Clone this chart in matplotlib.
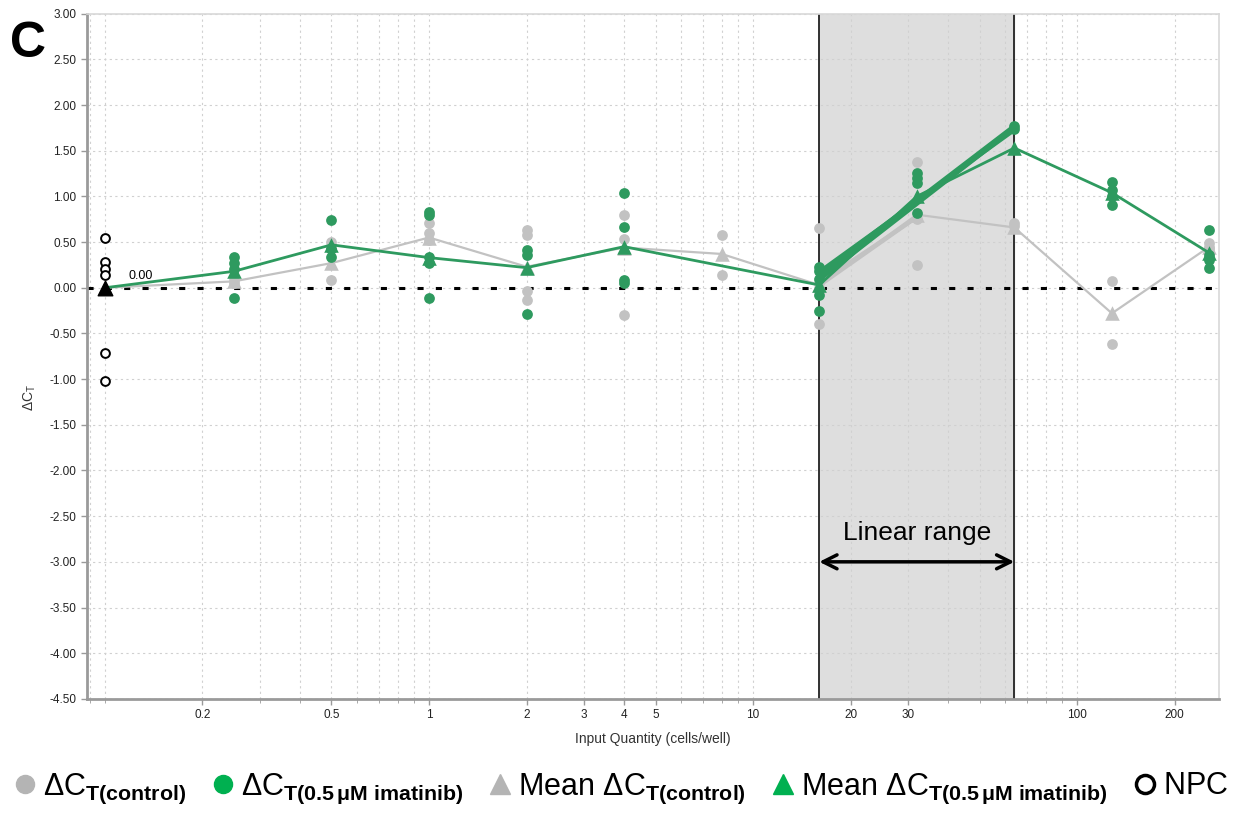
import matplotlib
matplotlib.use("Agg")
import matplotlib.pyplot as plt
from matplotlib import font_manager
from matplotlib.lines import Line2D
from matplotlib.ticker import FixedLocator, LogLocator, NullFormatter, FuncFormatter

# fonts: narrow sans for the legend if there is one
names = {f.name for f in font_manager.fontManager.ttflist}
narrow = "Liberation Sans Narrow" if "Liberation Sans Narrow" in names else "Liberation Sans"
plt.rcParams["font.family"] = ["Liberation Sans", "DejaVu Sans"]
plt.rcParams["mathtext.fontset"] = "custom"
plt.rcParams["mathtext.rm"] = narrow
plt.rcParams["mathtext.bf"] = narrow + ":bold"
plt.rcParams["mathtext.it"] = narrow

GRAY = "#c2c2c2"
GREEN = "#2e9a5f"
GREEN_LEG = "#00b050"

# replicate delta Ct values, control
ctrl_dose = [0.25, 0.25, 0.5, 0.5, 0.5, 1, 1, 1, 2, 2, 2, 2, 4, 4, 4, 8, 8,
             16, 16, 16, 16, 32, 32, 32, 64, 64, 128, 128, 256, 256, 256]
ctrl_dct = [0.05, 0.08, 0.08, 0.50, 0.45, 0.71, 0.60, 0.52, 0.63, 0.58, -0.04, -0.13,
            0.80, 0.53, -0.30, 0.58, 0.14, 0.65, -0.40, 0.00, 0.05, 1.38, 0.75, 0.25,
            0.71, 0.68, 0.07, -0.62, 0.49, 0.42, 0.45]

# replicate delta Ct values, 0.5 uM imatinib
imat_dose = [0.25, 0.25, 0.25, 0.25, 0.5, 0.5, 0.5, 1, 1, 1, 1, 1, 2, 2, 2,
             4, 4, 4, 4, 16, 16, 16, 16, 16, 32, 32, 32, 32, 64, 64,
             128, 128, 128, 128, 256, 256, 256, 256]
imat_dct = [0.34, 0.27, 0.20, -0.11, 0.74, 0.34, 0.42, 0.83, 0.80, 0.34, 0.27, -0.11,
            0.41, 0.36, -0.29, 1.04, 0.67, 0.09, 0.05, 0.23, 0.18, 0.10, -0.08, -0.25,
            1.26, 1.20, 1.15, 0.82, 1.77, 1.74, 1.16, 1.07, 1.00, 0.91, 0.63, 0.36, 0.30, 0.22]

# means
ctrl_mean_dose = [0.25, 0.5, 1, 2, 4, 8, 16, 32, 64, 128, 256]
ctrl_mean = [0.07, 0.27, 0.55, 0.23, 0.44, 0.37, 0.03, 0.80, 0.66, -0.28, 0.45]
imat_mean_dose = [0.25, 0.5, 1, 2, 4, 16, 32, 64, 128, 256]
imat_mean = [0.18, 0.47, 0.33, 0.22, 0.45, 0.03, 1.00, 1.53, 1.04, 0.38]

# no-template controls
npc_dose = 0.1
npc_dct = [0.55, 0.28, 0.21, 0.14, -0.71, -1.02]
npc_mean = 0.0

# per-replicate fits over the linear range
lin_lo, lin_hi = 16, 64
imat_fit_lo = [0.08, 0.13, 0.18, 0.10, 0.15]
imat_fit_hi = [1.74, 1.77, 1.72, 1.76, 1.78]
ctrl_fit_lo = [0.02, 0.06]
ctrl_fit_hi = [1.52, 1.48]

fig = plt.figure(figsize=(12.42, 8.30), dpi=100)
ax = fig.add_axes([0.070, 0.158, 0.9115, 0.8255])
ax.set_xscale("log")
ax.set_xlim(0.088, 274)
ax.set_ylim(-4.5, 3.0)

# linear range band
ax.axvspan(lin_lo, lin_hi, color="#dedede", zorder=0)
ax.axvline(lin_lo, color="#222222", lw=1.3, zorder=1)
ax.axvline(lin_hi, color="#222222", lw=1.3, zorder=1)

# grid
ax.xaxis.set_major_locator(FixedLocator([0.2, 0.5, 1, 2, 3, 4, 5, 10, 20, 30, 100, 200]))
ax.xaxis.set_minor_locator(LogLocator(base=10, subs=range(1, 10), numticks=20))
ax.xaxis.set_minor_formatter(NullFormatter())
ax.xaxis.set_major_formatter(FuncFormatter(lambda v, p: f"{v:g}"))
ax.set_yticks([i * 0.5 for i in range(-9, 7)])
ax.yaxis.set_major_formatter(FuncFormatter(lambda v, p: f"{v:.2f}"))
ax.grid(True, which="both", axis="x", color="#d0d0d0", ls=(0, (2, 3)), lw=0.8, zorder=0)
ax.grid(True, which="major", axis="y", color="#d0d0d0", ls=(0, (2, 3)), lw=0.8, zorder=0)
ax.set_axisbelow(True)

ax.axhline(0, color="black", ls=(0, (2, 4)), lw=2.2, zorder=2)

# control series
ax.plot([npc_dose] + ctrl_mean_dose, [npc_mean] + ctrl_mean, color=GRAY, lw=1.6, zorder=3)
for lo, hi in zip(ctrl_fit_lo, ctrl_fit_hi):
    ax.plot([lin_lo, 32], [lo, lo + (hi - lo) / 2], color=GRAY, lw=2.5, zorder=3)
ax.scatter(ctrl_dose, ctrl_dct, s=60, color=GRAY, zorder=4, linewidths=0)
ax.scatter(ctrl_mean_dose, ctrl_mean, s=110, marker="^", color=GRAY, zorder=4, linewidths=0)

# imatinib series
for lo, hi in zip(imat_fit_lo, imat_fit_hi):
    ax.plot([lin_lo, 32, lin_hi], [lo, (lo + hi) / 2, hi], color=GREEN, lw=2.2, zorder=5)
ax.plot([npc_dose] + imat_mean_dose, [npc_mean] + imat_mean, color=GREEN, lw=2.0, zorder=5)
ax.scatter(imat_dose, imat_dct, s=60, color=GREEN, zorder=6, linewidths=0)
ax.scatter(imat_mean_dose, imat_mean, s=110, marker="^", color=GREEN, zorder=6, linewidths=0)

# NPC
ax.scatter([npc_dose] * len(npc_dct), npc_dct, s=40, facecolors="white",
           edgecolors="black", linewidths=1.4, zorder=6)
ax.scatter([npc_dose], [npc_mean], s=110, marker="^", color="black", zorder=7)
ax.text(0.118, npc_mean + 0.06, f"{npc_mean:.2f}", fontsize=9, va="bottom", ha="left")

# linear range annotation
ax.annotate("", xy=(lin_lo, -3.0), xytext=(lin_hi, -3.0),
            arrowprops=dict(arrowstyle="<->", color="black", lw=2.5,
                            mutation_scale=25, shrinkA=0, shrinkB=0), zorder=8)
ax.text((lin_lo * lin_hi) ** 0.5, -2.82, "Linear range", fontsize=19,
        ha="center", va="bottom", zorder=8)

# axes styling
for side in ["top", "right"]:
    ax.spines[side].set_color("#d8d8d8")
    ax.spines[side].set_linewidth(1.2)
for side in ["left", "bottom"]:
    ax.spines[side].set_color("#9a9a9a")
    ax.spines[side].set_linewidth(2.0)
ax.tick_params(axis="both", which="major", labelsize=8.5, colors="#9a9a9a",
               labelcolor="#222222", length=4, width=1)
ax.tick_params(axis="x", which="minor", length=3, colors="#9a9a9a")
ax.set_xlabel("Input Quantity (cells/well)", fontsize=10, color="#333333", labelpad=8)
ax.set_ylabel(r"$\mathregular{\Delta C_T}$", fontsize=10, color="#333333")
ax.yaxis.set_label_coords(-0.043, 0.44)

fig.text(0.008, 0.975, "C", fontsize=36, fontweight="bold", va="top", ha="left")

# legend row
handles = [
    Line2D([], [], ls="", marker="o", ms=13, color="#b4b4b4"),
    Line2D([], [], ls="", marker="o", ms=13, color=GREEN_LEG),
    Line2D([], [], ls="", marker="^", ms=15, color="#b4b4b4"),
    Line2D([], [], ls="", marker="^", ms=15, color=GREEN_LEG),
    Line2D([], [], ls="", marker="o", ms=13, mfc="white", mec="black", mew=2.5),
]
labels = [
    r"$\Delta\mathrm{C}_{\mathbf{T(control)}}$",
    r"$\Delta\mathrm{C}_{\mathbf{T(0.5\,\mu M\ imatinib)}}$",
    r"$\mathrm{Mean}\ \Delta\mathrm{C}_{\mathbf{T(control)}}$",
    r"$\mathrm{Mean}\ \Delta\mathrm{C}_{\mathbf{T(0.5\,\mu M\ imatinib)}}$",
    r"$\mathrm{NPC}$",
]
fig.legend(handles, labels, loc="lower center", bbox_to_anchor=(0.5, 0.0), ncol=5,
           frameon=False, fontsize=22, handlelength=0.7, handletextpad=0.25,
           columnspacing=0.85, borderaxespad=0.4)

fig.savefig("out.png", dpi=100)
